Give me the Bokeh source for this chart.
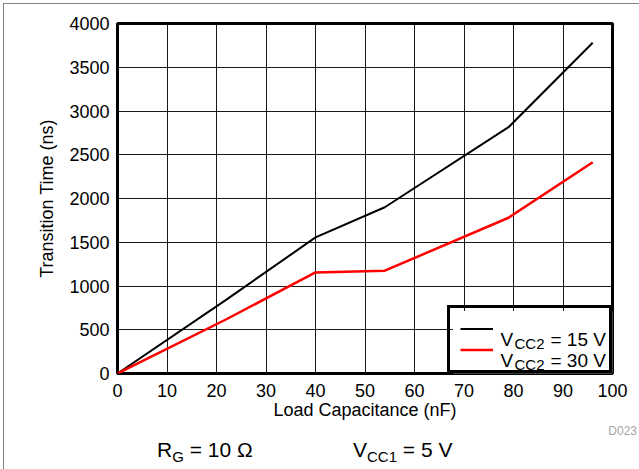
from bokeh.plotting import figure
from bokeh.layouts import column
from bokeh.models import BoxAnnotation, Div, FixedTicker, Label, Legend, LegendItem, Range1d
from bokeh.embed import file_html
from bokeh.resources import INLINE

# ---- data ----
load_cap_nF = [0, 22, 40, 54, 79, 96]
t_vcc2_15 = [0, 845, 1555, 1900, 2815, 3780]
t_vcc2_30 = [0, 620, 1155, 1175, 1780, 2415]
x_ticks = [0, 10, 20, 30, 40, 50, 60, 70, 80, 90, 100]
y_ticks = [0, 500, 1000, 1500, 2000, 2500, 3000, 3500, 4000]
x_title = "Load Capacitance (nF)"
y_title = "Transition Time (ns)"
legend_rows = [("V", "CC2", "= 15 V"), ("V", "CC2", "= 30 V")]
cond_rg = ("R", "G", "= 10 \u03a9")
cond_vcc1 = ("V", "CC1", "= 5 V")
fig_id = "D023"

FONT = "Liberation Sans"

# page geometry (pixels)
ORG_X, ORG_Y = 4, 4
FX0, FX1, FY0, FY1 = 117, 612, 373, 23
W = 635
H_MAIN = 421
STRIP_TOP = ORG_Y + H_MAIN
H_STRIP = 469 - STRIP_TOP

main = figure(width=W, height=H_MAIN, x_range=Range1d(0, 100), y_range=Range1d(0, 4000),
              output_backend="svg", toolbar_location=None,
              min_border_left=FX0 - ORG_X, min_border_right=ORG_X + W - FX1,
              min_border_top=FY1 - ORG_Y, min_border_bottom=ORG_Y + H_MAIN - FY0,
              background_fill_color="white", border_fill_color="white")

main.outline_line_color = "black"
main.outline_line_width = 3
main.outline_line_alpha = 1

main.xaxis.ticker = FixedTicker(ticks=x_ticks)
main.yaxis.ticker = FixedTicker(ticks=y_ticks)
for ax in (main.xaxis[0], main.yaxis[0]):
    ax.axis_line_color = None
    ax.major_tick_in = 0
    ax.major_tick_out = 0
    ax.minor_tick_in = 0
    ax.minor_tick_out = 0
    ax.major_label_text_font = FONT
    ax.major_label_text_font_size = "18px"
    ax.major_label_text_color = "black"
    ax.axis_label_text_font = FONT
    ax.axis_label_text_font_size = "18px"
    ax.axis_label_text_font_style = "normal"
    ax.axis_label_text_color = "black"
main.xaxis.axis_label = x_title
main.yaxis.axis_label = y_title
main.xaxis.major_label_standoff = 10
main.yaxis.major_label_standoff = 8
main.xaxis.axis_label_standoff = 0
main.yaxis.axis_label_standoff = 9

for g in (main.xgrid[0], main.ygrid[0]):
    g.grid_line_color = "black"
    g.grid_line_width = 1
    g.grid_line_alpha = 0.9


def dx(px):
    return (px - FX0) / (FX1 - FX0) * 100


def dy(py):
    return (FY0 - py) / (FY0 - FY1) * 4000


# white backing of the legend box (hides the grid beneath it)
main.add_layout(BoxAnnotation(left=dx(452.5), right=100, bottom=0, top=dy(310.5),
                              fill_color="white", fill_alpha=1, line_color=None,
                              level="underlay"))

r15 = main.line(load_cap_nF, t_vcc2_15, line_color="black", line_width=2)
r30 = main.line(load_cap_nF, t_vcc2_30, line_color="#ff0000", line_width=2.5)

legend = Legend(items=[LegendItem(label=" ", renderers=[r15]),
                       LegendItem(label=" ", renderers=[r30])],
                location="bottom_right", margin=0, padding=10, spacing=0,
                glyph_width=33, glyph_height=21, label_height=21,
                label_width=101, label_standoff=5,
                label_text_font_size="10px",
                border_line_color="black", border_line_width=3, border_line_alpha=1,
                background_fill_alpha=0)
main.add_layout(legend)


def add_label(text, px, py, size):
    main.add_layout(Label(x=dx(px), y=dy(py), text=text, text_font=FONT,
                          text_font_size=f"{size}px", text_color="black",
                          text_align="left", text_baseline="alphabetic"))


for i, row in enumerate(legend_rows):
    base = 338.5 + 21 * i
    add_label(row[0], 500, base, 19)
    add_label(row[1], 514, base + 4, 15)
    add_label(row[2], 550, base, 19)


# conditions text under the chart: an inline SVG with real text elements
def svg_sub(parts, px, base, f_main, f_sub, drop):
    x = px - ORG_X
    y = base - STRIP_TOP
    return (f'<text x="{x}" y="{y}" font-family="{FONT}" font-size="{f_main}px" '
            f'fill="black" style="white-space:pre">{parts[0]}'
            f'<tspan font-size="{f_sub}px" dy="{drop}">{parts[1]}</tspan>'
            f'<tspan dy="{-drop}"> {parts[2]}</tspan></text>')


svg = (f'<svg xmlns="http://www.w3.org/2000/svg" width="{W}" height="{H_STRIP}" '
       f'style="display:block;overflow:visible">'
       + svg_sub(cond_rg, 157, 457, 21, 15, 4.5)
       + svg_sub(cond_vcc1, 353, 457, 21, 15, 4.5)
       + f'<text x="{637 - ORG_X}" y="{435 - STRIP_TOP}" font-family="{FONT}" '
         f'font-size="12px" fill="#a6a6a6" text-anchor="end">{fig_id}</text>'
       + '</svg>')

strip = Div(text=svg, width=W, height=H_STRIP,
            styles={"margin": "0", "padding": "0", "overflow": "visible"})

p = column(main, strip, spacing=0)
p.styles = {"margin-left": "3px", "margin-top": "3px",
            "border-left": "1px solid #7f7f7f", "border-top": "1px solid #7f7f7f"}

open("out.html", "w").write(file_html(p, INLINE))
